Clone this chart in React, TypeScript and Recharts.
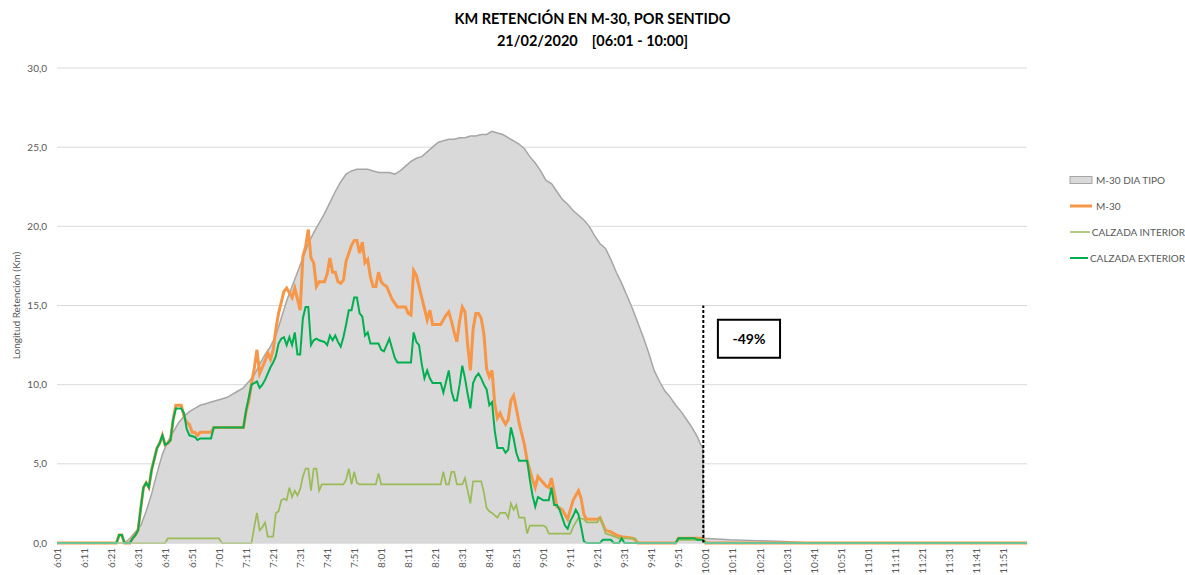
import { ComposedChart, Area, Line, XAxis, YAxis, CartesianGrid, ReferenceLine, ReferenceArea } from 'recharts';

// x = minutes after 6:00 (6:01 -> 1, 12:00 -> 360); y = km
type Pt = [number, number];

const X_TICK_LABELS = [
  '6:01', '6:11', '6:21', '6:31', '6:41', '6:51', '7:01', '7:11', '7:21', '7:31', '7:41', '7:51',
  '8:01', '8:11', '8:21', '8:31', '8:41', '8:51', '9:01', '9:11', '9:21', '9:31', '9:41', '9:51',
  '10:01', '10:11', '10:21', '10:31', '10:41', '10:51', '11:01', '11:11', '11:21', '11:31', '11:41', '11:51',
];
const Y_TICKS = [0, 5, 10, 15, 20, 25, 30];

const DIA_TIPO: Pt[] = [
  [1, 0], [26, 0], [28, 0.3], [30, 0.7], [32, 1.1], [34, 2.0], [36, 3.1], [38, 4.4], [40, 5.6], [42, 6.4],
  [44, 7.0], [46, 7.6], [48, 8.0], [50, 8.3], [52, 8.5], [54, 8.7], [56, 8.8], [58, 8.9], [60, 9.0], [62, 9.1],
  [64, 9.2], [66, 9.4], [68, 9.6], [70, 9.8], [72, 10.2], [74, 10.6], [76, 11.3], [78, 11.9], [80, 12.4], [82, 13.1],
  [84, 14.2], [86, 15.3], [88, 16.2], [90, 17.1], [92, 18.0], [94, 18.9], [96, 19.6], [98, 20.2], [100, 20.8], [102, 21.5],
  [104, 22.2], [106, 22.8], [108, 23.3], [110, 23.5], [112, 23.6], [114, 23.6], [116, 23.6], [118, 23.5], [120, 23.4], [122, 23.4],
  [124, 23.4], [126, 23.3], [128, 23.5], [130, 23.8], [132, 24.1], [134, 24.3], [136, 24.4], [138, 24.7], [140, 25.0], [142, 25.3],
  [144, 25.4], [146, 25.5], [148, 25.5], [150, 25.6], [152, 25.6], [154, 25.7], [156, 25.7], [158, 25.8], [160, 25.8], [162, 26.0],
  [164, 25.9], [166, 25.8], [168, 25.6], [170, 25.4], [172, 25.2], [174, 24.9], [176, 24.4], [178, 24.0], [180, 23.5], [182, 22.9],
  [184, 22.7], [186, 22.2], [188, 21.7], [190, 21.4], [192, 21.0], [194, 20.7], [196, 20.4], [198, 20.0], [200, 19.4], [202, 18.9],
  [204, 18.6], [206, 17.9], [208, 17.1], [210, 16.4], [212, 15.6], [214, 14.8], [216, 13.9], [218, 13.0], [220, 12.0], [222, 10.9],
  [224, 10.2], [226, 9.6], [228, 9.2], [230, 8.7], [232, 8.3], [234, 7.8], [236, 7.3], [238, 6.7], [239, 6.3], [240, 6.0],
  [240.4, 0.3], [250, 0.2], [260, 0.15], [270, 0.1], [280, 0], [360, 0],
];

const M30: Pt[] = [
  [1, 0], [23, 0], [24, 0.5], [25, 0.5], [26, 0], [28, 0], [29, 0.3], [30, 0.5], [31, 0.8], [32, 2.2],
  [33, 3.5], [34, 3.8], [35, 3.5], [36, 4.6], [37, 5.3], [38, 6.0], [39, 6.3], [40, 6.8], [41, 6.2], [42, 6.3],
  [43, 6.5], [44, 7.8], [45, 8.7], [47, 8.7], [48, 8.0], [49, 7.6], [50, 7.5], [51, 7.0], [52, 7.0], [53, 6.8],
  [54, 7.0], [58, 7.0], [59, 7.3], [70, 7.3], [71, 8.3], [72, 9.0], [73, 10.1], [74, 11.0], [75, 12.2], [76, 10.7],
  [77, 11.1], [78, 11.5], [79, 12.0], [80, 11.6], [81, 12.2], [82, 13.5], [83, 14.5], [84, 15.2], [85, 15.9], [86, 16.1],
  [87, 15.8], [88, 15.5], [89, 16.1], [90, 15.4], [91, 14.7], [92, 18.1], [93, 18.7], [94, 19.8], [95, 18.0], [96, 17.7],
  [97, 16.2], [98, 16.5], [100, 16.5], [101, 17.0], [102, 18.0], [103, 17.1], [104, 17.1], [105, 16.5], [106, 16.4], [107, 16.6],
  [108, 17.8], [109, 18.3], [110, 18.8], [111, 19.1], [112, 19.1], [113, 18.3], [114, 19.0], [115, 17.7], [116, 17.9], [117, 16.8],
  [118, 16.2], [119, 16.2], [120, 17.1], [121, 16.5], [122, 16.3], [123, 16.2], [124, 15.8], [125, 15.4], [127, 14.9], [130, 14.9],
  [131, 14.5], [132, 14.4], [133, 17.2], [134, 16.9], [135, 16.2], [136, 15.5], [137, 14.8], [138, 14.1], [139, 14.7], [140, 13.8],
  [143, 13.8], [144, 14.1], [145, 14.4], [146, 14.6], [147, 14.0], [148, 13.3], [149, 12.7], [150, 14.0], [151, 14.9], [152, 14.6],
  [153, 12.5], [154, 10.9], [155, 13.5], [156, 14.5], [157, 14.5], [158, 14.2], [159, 13.2], [160, 11.0], [161, 10.5], [162, 10.9],
  [163, 8.8], [164, 7.9], [165, 8.2], [166, 7.8], [167, 7.5], [168, 7.8], [169, 9.0], [170, 9.3], [171, 8.5], [172, 7.6],
  [173, 6.9], [174, 6.2], [175, 5.2], [176, 4.6], [177, 4.0], [178, 3.5], [179, 4.2], [180, 4.0], [181, 3.8], [182, 3.6],
  [183, 3.5], [184, 4.1], [185, 3.2], [186, 2.3], [187, 2.2], [188, 2.1], [189, 1.8], [190, 1.5], [191, 2.1], [192, 2.7],
  [193, 3.0], [194, 3.3], [195, 2.8], [196, 1.8], [197, 1.5], [201, 1.5], [202, 1.6], [203, 1.2], [204, 0.8], [206, 0.7],
  [208, 0.5], [210, 0.4], [214, 0.3], [215, 0.2], [216, 0], [230, 0], [231, 0.3], [240, 0.3], [241, 0], [360, 0],
];

const CALZADA_INTERIOR: Pt[] = [
  [1, 0], [41, 0], [42, 0.3], [61, 0.3], [62, 0], [73, 0], [74, 1.0], [75, 1.9], [76, 0.8], [77, 1.0],
  [78, 1.3], [79, 0.4], [81, 0.4], [82, 1.9], [83, 2.0], [84, 2.7], [85, 2.8], [86, 2.7], [87, 3.5], [88, 2.9],
  [89, 3.3], [90, 3.0], [91, 3.4], [92, 4.2], [93, 4.7], [94, 4.7], [95, 3.3], [96, 4.7], [97, 4.7], [98, 3.3],
  [99, 3.7], [107, 3.7], [108, 4.0], [109, 4.7], [110, 3.7], [111, 4.5], [112, 3.8], [113, 3.7], [119, 3.7], [120, 4.4],
  [121, 3.7], [142, 3.7], [143, 3.7], [144, 4.5], [145, 3.7], [146, 3.7], [147, 4.5], [148, 4.5], [149, 3.7], [151, 3.7],
  [152, 4.1], [153, 3.3], [154, 2.5], [155, 3.9], [158, 3.9], [159, 3.2], [160, 2.2], [161, 2.0], [162, 1.9], [164, 1.6],
  [165, 1.9], [167, 1.9], [168, 1.6], [169, 2.5], [170, 2.1], [171, 2.4], [172, 1.6], [174, 1.6], [175, 0.6], [176, 1.1],
  [181, 1.1], [182, 1.0], [183, 0.6], [191, 0.6], [192, 1.0], [193, 1.3], [194, 1.6], [196, 1.5], [197, 1.3], [201, 1.3],
  [202, 1.6], [203, 1.2], [204, 0.6], [206, 0.5], [209, 0.3], [215, 0.3], [216, 0], [230, 0], [231, 0.2], [240, 0.2],
  [241, 0], [360, 0],
];

const CALZADA_EXTERIOR: Pt[] = [
  [1, 0], [23, 0], [24, 0.5], [25, 0.5], [26, 0], [28, 0], [29, 0.3], [30, 0.5], [31, 0.8], [32, 2.2],
  [33, 3.5], [34, 3.8], [35, 3.5], [36, 4.6], [37, 5.3], [38, 6.0], [39, 6.3], [40, 6.8], [41, 6.2], [42, 6.3],
  [43, 6.5], [44, 7.8], [45, 8.5], [47, 8.5], [48, 8.2], [49, 7.2], [50, 6.8], [52, 6.7], [53, 6.5], [54, 6.6],
  [58, 6.6], [59, 7.3], [70, 7.3], [71, 8.4], [72, 9.2], [73, 10.0], [74, 10.1], [75, 10.2], [76, 9.8], [77, 10.0],
  [78, 10.3], [79, 10.7], [80, 11.1], [81, 11.4], [82, 11.8], [83, 12.6], [84, 12.9], [85, 13.0], [86, 12.5], [87, 13.0],
  [88, 12.5], [89, 13.3], [90, 11.9], [91, 11.9], [92, 14.2], [93, 14.9], [94, 14.9], [95, 12.5], [96, 12.8], [97, 12.9],
  [98, 12.8], [100, 12.7], [101, 12.5], [102, 13.1], [103, 12.8], [104, 13.1], [105, 12.7], [106, 12.4], [107, 13.0], [108, 13.8],
  [109, 14.7], [110, 14.7], [111, 15.5], [112, 15.5], [113, 14.5], [114, 14.3], [115, 13.1], [116, 13.3], [117, 12.6], [120, 12.6],
  [121, 12.2], [122, 12.1], [123, 12.5], [124, 12.9], [125, 12.3], [126, 11.7], [127, 11.4], [132, 11.4], [133, 13.3], [134, 12.7],
  [135, 12.5], [136, 11.3], [137, 10.4], [138, 10.9], [139, 10.4], [140, 10.1], [143, 10.1], [144, 9.5], [145, 10.2], [146, 10.9],
  [147, 9.6], [148, 9.0], [149, 9.0], [150, 10.0], [151, 11.2], [152, 10.4], [153, 9.4], [154, 8.5], [155, 10.1], [156, 10.5],
  [157, 10.7], [158, 10.4], [159, 10.0], [160, 9.7], [161, 8.7], [162, 8.9], [163, 7.1], [164, 6.0], [166, 6.0], [167, 5.7],
  [168, 5.9], [169, 7.3], [170, 6.6], [171, 5.7], [172, 5.2], [175, 5.2], [176, 4.0], [177, 3.0], [178, 2.3], [179, 2.9],
  [180, 2.8], [181, 2.7], [183, 2.7], [184, 3.5], [185, 2.4], [186, 2.4], [187, 2.1], [188, 1.6], [189, 1.1], [190, 0.9],
  [191, 1.4], [192, 1.7], [193, 2.1], [194, 1.8], [195, 1.0], [196, 0.1], [197, 0], [202, 0], [203, 0.2], [206, 0.2],
  [207, 0], [209, 0], [210, 0.3], [211, 0], [230, 0], [231, 0.3], [237, 0.3], [238, 0.2], [240, 0.2], [241, 0],
  [360, 0],
];

const FONT = 'Lato, "Open Sans", sans-serif';
const AXIS_TEXT = '#595959';

const toMinutes = (label: string) => {
  const [h, m] = label.split(':').map(Number);
  return (h - 6) * 60 + m;
};
const toLabel = (min: number) => {
  const h = 6 + Math.floor(min / 60);
  const m = min % 60;
  return `${h}:${String(m).padStart(2, '0')}`;
};
const rows = (pts: Pt[]) => pts.map(([t, v]) => ({ t, v }));

const X_TICKS = X_TICK_LABELS.map(toMinutes);

const legendItems = [
  { name: 'M-30 DIA TIPO', kind: 'area', color: '#D9D9D9', stroke: '#A6A6A6' },
  { name: 'M-30', kind: 'line', color: '#F79646', width: 3 },
  { name: 'CALZADA INTERIOR', kind: 'line', color: '#9BBB59', width: 1.5 },
  { name: 'CALZADA EXTERIOR', kind: 'line', color: '#00B050', width: 2 },
];

function XTick({ x, y, payload }: any) {
  return (
    <text
      x={x}
      y={y}
      transform={`rotate(-90 ${x} ${y})`}
      textAnchor="end"
      dominantBaseline="central"
      fontSize={10}
      fontFamily={FONT}
      fill={AXIS_TEXT}
    >
      {toLabel(payload.value)}
    </text>
  );
}

export default function App() {
  return (
    <div style={{ position: 'absolute', left: 0, top: 0, width: 1185, height: 575, background: '#fff', fontFamily: FONT }}>
      <div style={{ position: 'absolute', left: 0, top: 8, width: 1185, textAlign: 'center', fontWeight: 700, fontSize: 14.5, lineHeight: '22px', color: '#000', whiteSpace: 'pre' }}>
        {'KM RETENCIÓN EN M-30, POR SENTIDO'}
        <br />
        {'21/02/2020    [06:01 - 10:00]'}
      </div>

      <ComposedChart width={1185} height={575} margin={{ top: 68, right: 158, bottom: 2, left: 15 }}>
        <CartesianGrid vertical={false} stroke="#D9D9D9" />
        <XAxis
          dataKey="t"
          type="number"
          domain={[1, 360]}
          ticks={X_TICKS}
          interval={0}
          height={30}
          tickSize={3}
          tickMargin={2}
          tickLine={false}
          axisLine={{ stroke: '#D9D9D9' }}
          tick={<XTick />}
          allowDataOverflow
        />
        <YAxis
          type="number"
          domain={[0, 30]}
          ticks={Y_TICKS}
          width={42}
          tickLine={false}
          axisLine={false}
          tickSize={6}
          tickMargin={4}
          tick={{ fontSize: 10, fill: AXIS_TEXT, fontFamily: FONT }}
          tickFormatter={(v: number) => v.toFixed(1).replace('.', ',')}
          label={{ value: 'Longitud Retención (Km)', angle: -90, position: 'center', dx: -20, fontSize: 10, fill: AXIS_TEXT, fontFamily: FONT }}
        />

        <Area
          data={rows(DIA_TIPO)}
          dataKey="v"
          type="linear"
          fill="#D9D9D9"
          fillOpacity={1}
          stroke="#A6A6A6"
          strokeWidth={1.5}
          isAnimationActive={false}
        />
        <Line data={rows(M30)} dataKey="v" type="linear" stroke="#F79646" strokeWidth={3} dot={false} isAnimationActive={false} />
        <Line data={rows(CALZADA_INTERIOR)} dataKey="v" type="linear" stroke="#9BBB59" strokeWidth={1.75} dot={false} isAnimationActive={false} />
        <Line data={rows(CALZADA_EXTERIOR)} dataKey="v" type="linear" stroke="#00B050" strokeWidth={2} dot={false} isAnimationActive={false} />

        <ReferenceLine
          segment={[{ x: 240.2, y: 0 }, { x: 240.2, y: 15 }]}
          stroke="#000"
          strokeWidth={2}
          strokeDasharray="3 2"
          ifOverflow="visible"
        />
        <ReferenceArea
          x1={245.6}
          x2={268.6}
          y1={11.7}
          y2={14.1}
          fill="#fff"
          fillOpacity={1}
          stroke="#000"
          strokeWidth={2}
          ifOverflow="visible"
          label={{ value: '-49%', position: 'center', fontSize: 14, fontWeight: 700, fill: '#000', fontFamily: FONT }}
        />
      </ComposedChart>

      <div style={{ position: 'absolute', left: 1068, top: 167, width: 117 }}>
        {legendItems.map((it) => (
          <div key={it.name} style={{ display: 'flex', alignItems: 'center', height: 26 }}>
            <svg width={26} height={10} style={{ marginRight: 2 }}>
              {it.kind === 'area' ? (
                <rect x={2} y={1.5} width={22} height={7} fill={it.color} stroke={it.stroke} strokeWidth={1} />
              ) : (
                <line x1={2} y1={5} x2={24} y2={5} stroke={it.color} strokeWidth={it.width} />
              )}
            </svg>
            <span style={{ fontSize: 10, color: AXIS_TEXT, whiteSpace: 'nowrap' }}>{it.name}</span>
          </div>
        ))}
      </div>
    </div>
  );
}
